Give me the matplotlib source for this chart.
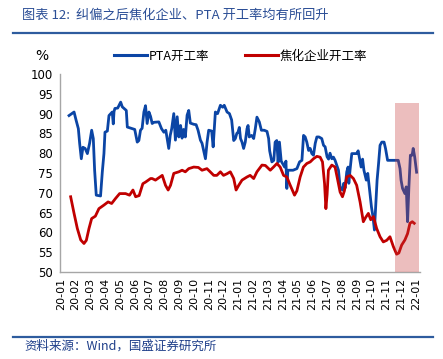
import matplotlib.pyplot as plt
from matplotlib.lines import Line2D
from matplotlib.patches import Rectangle

plt.rcParams['font.family'] = ['Noto Sans CJK SC', 'DejaVu Sans']

# x values are months since 2020-01 (tick labels below)
months = ['20-01', '20-02', '20-03', '20-04', '20-05', '20-06', '20-07', '20-08',
          '20-09', '20-10', '20-11', '20-12', '21-01', '21-02', '21-03', '21-04',
          '21-05', '21-06', '21-07', '21-08', '21-09', '21-10', '21-11', '21-12', '22-01']

pta_month = [0.56, 0.9, 1.04, 1.19, 1.28, 1.39, 1.5, 1.65, 1.8, 1.95,
             2.09, 2.2, 2.29, 2.4, 2.69, 2.81, 2.92, 2.99, 3.15, 3.26,
             3.48, 3.55, 3.6, 3.66, 3.85, 4.05, 4.16, 4.43, 4.5, 4.83,
             5.0, 5.17, 5.28, 5.39, 5.5, 5.62, 5.73, 5.84, 5.96, 6.07,
             6.18, 6.3, 6.63, 6.81, 6.97, 7.1, 7.3, 7.4, 7.5, 7.64,
             7.75, 7.87, 7.98, 8.1, 8.2, 8.3, 8.42, 8.54, 8.65, 8.76,
             8.99, 9.15, 9.28, 9.44, 9.55, 9.66, 9.78, 9.89, 10.0, 10.2,
             10.3, 10.45, 10.6, 10.79, 10.95, 11.05, 11.24, 11.4, 11.55, 11.69,
             11.8, 11.9, 11.98, 12.07, 12.15, 12.25, 12.36, 12.47, 12.59, 12.66,
             12.74, 12.9, 13.04, 13.15, 13.26, 13.42, 13.56, 13.75, 13.94, 14.05,
             14.12, 14.27, 14.4, 14.49, 14.6, 14.69, 14.78, 14.9, 15.13, 15.22,
             15.28, 15.35, 15.5, 15.7, 15.96, 16.14, 16.3, 16.41, 16.52, 16.63,
             16.75, 16.86, 16.97, 17.08, 17.2, 17.31, 17.45, 17.64, 17.76, 17.87,
             18.0, 18.1, 18.2, 18.32, 18.43, 18.54, 18.65, 18.77, 18.88, 19.04,
             19.13, 19.22, 19.33, 19.42, 19.47, 19.55, 19.67, 20.0, 20.1, 20.3,
             20.4, 20.49, 20.65, 20.75, 20.9, 21.0, 21.1, 21.2, 21.27, 21.38,
             21.48, 21.58, 21.7, 21.85, 21.95, 22.09, 22.81, 22.93, 23.0, 23.1,
             23.26, 23.35, 23.44, 23.53, 23.63, 23.75, 23.82, 23.92, 24.05]
pta_rate = [89.5, 90.4, 88.3, 86.2, 82.4, 78.6, 81.5, 81.2, 79.9, 82.5,
            85.8, 83.7, 75.7, 69.4, 69.2, 75.3, 79.9, 85.3, 85.6, 89.5,
            90.4, 87.4, 90.5, 91.3, 91.4, 92.9, 91.7, 90.8, 86.6, 86.2,
            86.0, 82.8, 83.2, 85.8, 86.3, 90.4, 92.0, 87.5, 90.4, 89.3,
            87.5, 87.8, 87.9, 86.2, 85.3, 85.8, 81.2, 84.5, 86.2, 90.0,
            83.3, 89.2, 84.1, 87.0, 83.8, 86.0, 84.1, 89.6, 90.8, 87.6,
            87.3, 87.2, 85.8, 83.3, 82.5, 80.6, 78.6, 82.8, 85.8, 85.6,
            81.6, 90.4, 90.0, 92.1, 91.6, 92.1, 90.4, 90.0, 88.4, 83.2,
            83.7, 85.0, 85.3, 86.5, 83.7, 82.8, 81.2, 82.8, 86.2, 87.0,
            84.1, 84.5, 83.7, 86.2, 89.1, 87.9, 85.8, 85.8, 85.5, 83.7,
            80.6, 77.8, 78.2, 82.8, 83.2, 77.7, 82.8, 78.0, 76.5, 78.0,
            71.1, 75.7, 75.7, 75.7, 76.1, 77.8, 78.2, 84.5, 84.1, 82.8,
            80.7, 81.2, 79.9, 79.5, 82.5, 84.1, 84.1, 83.7, 82.0, 81.6,
            79.1, 78.5, 80.0, 78.6, 79.0, 78.2, 77.0, 75.7, 71.5, 70.7,
            72.4, 71.2, 75.3, 76.5, 72.4, 75.7, 79.9, 79.9, 80.6, 76.5,
            78.5, 75.7, 73.2, 74.9, 69.8, 66.4, 64.0, 60.6, 65.5, 73.2,
            77.4, 82.0, 82.8, 82.8, 81.2, 78.2, 78.2, 76.1, 73.2, 71.1,
            69.8, 71.5, 62.7, 71.5, 79.5, 79.5, 81.2, 79.1, 75.2]

coke_month = [0.67, 0.9, 1.12, 1.35, 1.57, 1.73, 1.91, 2.09, 2.34, 2.58,
              2.92, 3.2, 3.44, 3.71, 3.98, 4.38, 4.65, 4.88, 5.06, 5.3,
              5.55, 5.73, 6.07, 6.18, 6.4, 6.86, 7.08, 7.26, 7.42, 7.64,
              7.98, 8.2, 8.42, 8.65, 8.99, 9.3, 9.55, 9.88, 10.1, 10.34,
              10.55, 10.79, 11.0, 11.23, 11.46, 11.69, 11.85, 12.03, 12.25, 12.59,
              12.8, 13.04, 13.26, 13.6, 13.83, 14.16, 14.38, 14.61, 14.83, 15.06,
              15.28, 15.51, 15.8, 15.96, 16.18, 16.4, 16.63, 16.86, 17.08, 17.31,
              17.53, 17.69, 17.83, 17.92, 18.0, 18.09, 18.32, 18.54, 18.72, 18.88,
              19.04, 19.17, 19.33, 19.56, 19.78, 20.0, 20.23, 20.45, 20.61, 20.79,
              20.95, 21.13, 21.35, 21.58, 21.8, 22.03, 22.25, 22.48, 22.7, 22.85,
              23.04, 23.26, 23.44, 23.6, 23.76, 23.89]
coke_rate = [69.0, 64.8, 61.0, 58.1, 57.2, 58.0, 61.0, 63.5, 64.1, 66.0,
             66.9, 67.7, 67.3, 68.6, 69.8, 69.8, 69.4, 70.7, 69.0, 69.3,
             72.3, 72.7, 73.6, 73.6, 73.2, 74.4, 71.9, 70.7, 71.9, 74.9,
             75.3, 75.7, 75.3, 76.1, 76.5, 76.4, 75.7, 76.1, 75.3, 74.4,
             74.4, 75.3, 74.4, 74.8, 75.3, 73.6, 70.7, 71.9, 73.2, 74.0,
             74.4, 73.6, 75.3, 77.0, 76.9, 75.7, 76.5, 77.4, 76.5, 74.4,
             74.0, 71.9, 69.4, 70.5, 74.0, 76.5, 77.4, 77.8, 78.6, 79.2,
             79.0, 77.8, 72.3, 66.0, 69.5, 75.7, 77.0, 76.5, 73.2, 70.2,
             69.0, 70.5, 74.0, 74.4, 73.6, 71.9, 67.7, 62.7, 63.8, 64.8,
             63.2, 64.0, 61.0, 58.9, 57.6, 58.0, 58.9, 56.4, 54.5, 54.8,
             56.8, 58.1, 59.7, 62.3, 62.7, 62.3]

W, H = 443, 359
fig = plt.figure(figsize=(W / 100, H / 100), dpi=100)
ax = fig.add_axes([60 / W, 87 / H, 360 / W, 198 / H])

blue = '#0B45A5'
red = '#C00000'
ax.plot(pta_month, pta_rate, color=blue, lw=2.0, solid_joinstyle='round')
ax.plot(coke_month, coke_rate, color=red, lw=2.0, solid_joinstyle='round')

# highlighted recent period
ax.add_patch(Rectangle((22.59, 50), 1.62, 42.8, facecolor='#C83C3C', alpha=0.33,
                       edgecolor='none', zorder=5))

ax.set_xlim(-0.05, 24.28)
ax.set_ylim(50, 100)
ax.set_yticks(range(50, 101, 5))
ax.set_xticks(range(len(months)))
ax.set_xticklabels(months, rotation=90, fontsize=8, family='DejaVu Sans')
ax.tick_params(axis='y', labelsize=8.5, length=0, pad=5)
ax.tick_params(axis='x', length=0, pad=4)
for t in ax.get_yticklabels():
    t.set_family('DejaVu Sans')
for s in ['top', 'right']:
    ax.spines[s].set_visible(False)
for s in ['left', 'bottom']:
    ax.spines[s].set_color('#A6A6A6')
    ax.spines[s].set_linewidth(1.0)

handles = [Line2D([], [], color=blue, lw=2.2), Line2D([], [], color=red, lw=2.2)]
fig.legend(handles, ['PTA开工率', '焦化企业开工率'], loc='center left',
           bbox_to_anchor=(114 / W, 1 - 56 / H), ncol=2, frameon=False,
           fontsize=9, handlelength=2.6, handletextpad=0.15, columnspacing=2.9,
           borderpad=0, borderaxespad=0)

fig.text(35 / W, 1 - 56 / H, '%', fontsize=10, va='center', family='DejaVu Sans')

fig.text(22 / W, 1 - 15 / H, '图表 12:  纠偏之后焦化企业、PTA 开工率均有所回升',
         fontsize=9.5, color='#2B4E96', va='center')
fig.text(24 / W, 1 - 346 / H, '资料来源：Wind，国盛证券研究所',
         fontsize=9, color='#1F3F8A', va='center')

fig.add_artist(Line2D([13 / W, 433 / W], [1 - 33 / H, 1 - 33 / H],
                      color='#2E5C9E', lw=1.6))
fig.add_artist(Line2D([13 / W, 433 / W], [1 - 337 / H, 1 - 337 / H],
                      color='#2E5C9E', lw=1.6))

fig.savefig('out.png', dpi=100)
